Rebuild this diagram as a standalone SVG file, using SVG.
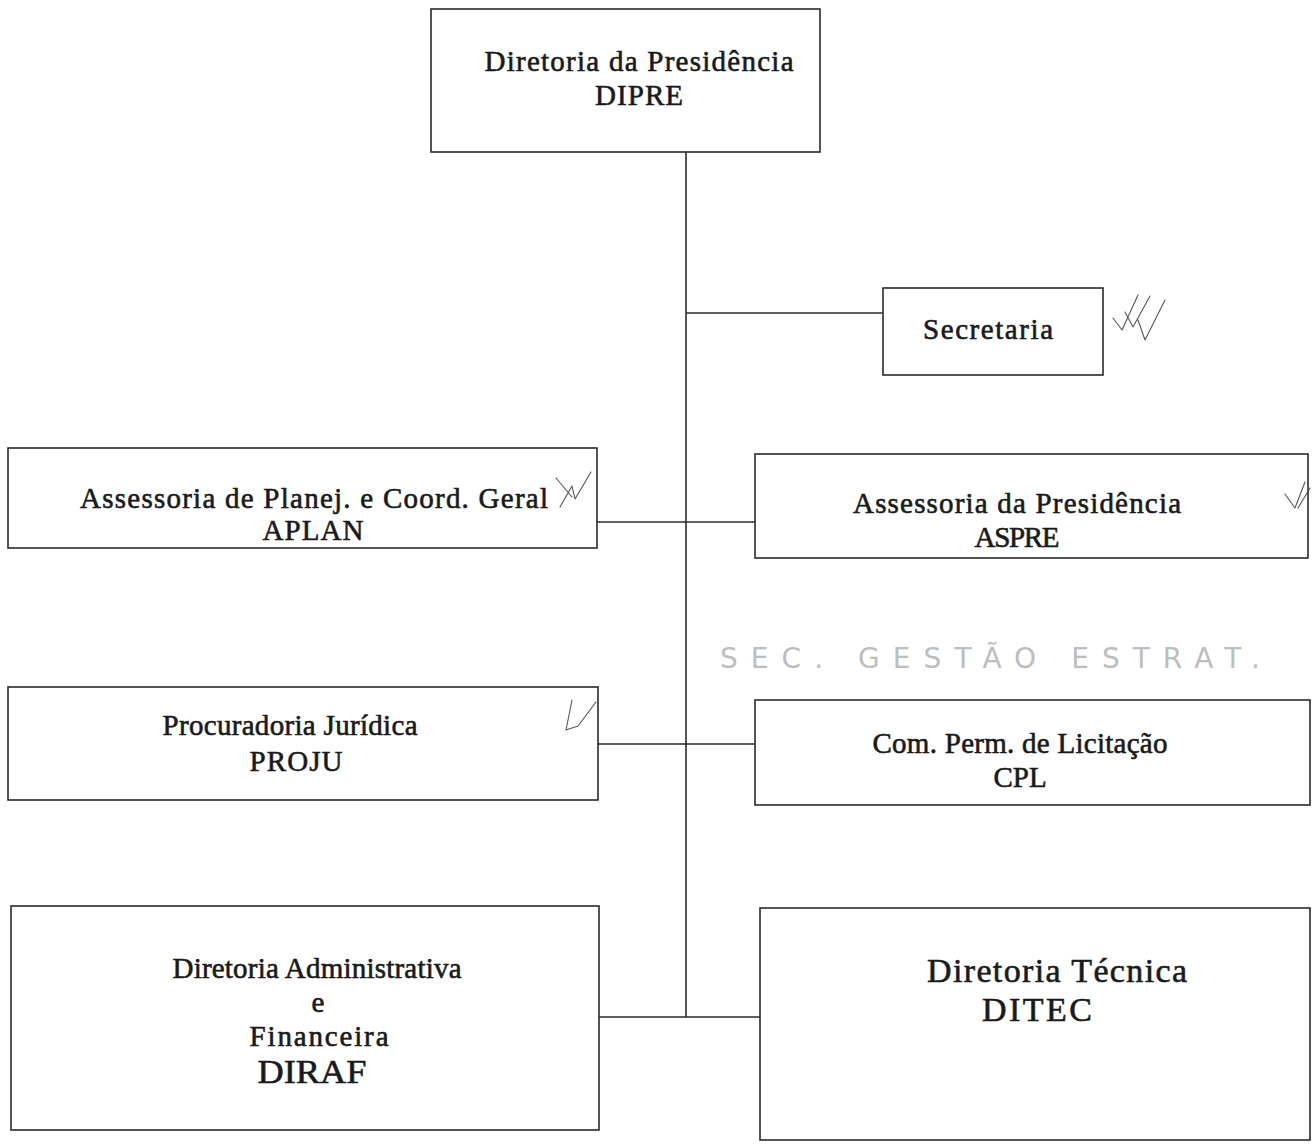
<svg xmlns="http://www.w3.org/2000/svg" width="1312" height="1146" viewBox="0 0 1312 1146">
<style>
.box{fill:#ffffff;stroke:#2a2a2a;stroke-width:1.6}
.conn{stroke:#2a2a2a;stroke-width:1.6;fill:none}
.t{font-family:"Liberation Serif","Times New Roman",serif;fill:#1a1a1a;stroke:#1a1a1a;stroke-width:0.6;text-anchor:middle;font-size:29px}
.big{font-size:34px}
.mark{fill:none;stroke:#555;stroke-width:1.1;stroke-linecap:round;stroke-linejoin:round}
.hand{font-family:"DejaVu Sans",sans-serif;fill:#bdbdbd;font-size:28px}
</style>
<rect width="1312" height="1146" fill="#ffffff"/>
<g id="connectors">
<line class="conn" x1="686" y1="152" x2="686" y2="1017"/>
<line class="conn" x1="686" y1="313" x2="883" y2="313"/>
<line class="conn" x1="597" y1="522" x2="755" y2="522"/>
<line class="conn" x1="598" y1="744" x2="755" y2="744"/>
<line class="conn" x1="599" y1="1017" x2="760" y2="1017"/>
</g>
<g id="dipre">
<rect class="box" x="431" y="9" width="389" height="143"/>
<text class="t" x="639" y="71" textLength="309" lengthAdjust="spacing">Diretoria da Presidência</text>
<text class="t" x="639" y="105" textLength="88" lengthAdjust="spacing">DIPRE</text>
</g>
<g id="secretaria">
<rect class="box" x="883" y="288" width="220" height="87"/>
<text class="t" x="988" y="339" textLength="130" lengthAdjust="spacing">Secretaria</text>
<path class="mark" d="M1113 318 L1122 330 L1138 295 M1125 312 L1133 327 L1150 296 M1138 320 L1145 340 L1165 300"/>
</g>
<g id="aplan">
<rect class="box" x="8" y="448" width="589" height="100"/>
<text class="t" x="314" y="508" textLength="468" lengthAdjust="spacing">Assessoria de Planej. e Coord. Geral</text>
<text class="t" x="313" y="540" textLength="101" lengthAdjust="spacing">APLAN</text>
<path class="mark" d="M556 478 L572 497 M560 507 L572 486 L575 499 L591 472"/>
</g>
<g id="aspre">
<rect class="box" x="755" y="454" width="553" height="104"/>
<text class="t" x="1017" y="513" textLength="328" lengthAdjust="spacing">Assessoria da Presidência</text>
<text class="t" x="1017" y="547" textLength="85" lengthAdjust="spacing">ASPRE</text>
<path class="mark" d="M1285 494 L1295 508 L1305 482 M1298 508 L1310 488"/>
</g>
<text class="hand" x="990" y="668" text-anchor="middle" textLength="540" lengthAdjust="spacing">SEC. GESTÃO ESTRAT.</text>
<g id="proju">
<rect class="box" x="8" y="687" width="590" height="113"/>
<text class="t" x="290" y="735" textLength="255" lengthAdjust="spacing">Procuradoria Jurídica</text>
<text class="t" x="296" y="771" textLength="93" lengthAdjust="spacing">PROJU</text>
<path class="mark" d="M572 700 L566 730 L578 726 L596 702"/>
</g>
<g id="cpl">
<rect class="box" x="755" y="700" width="555" height="105"/>
<text class="t" x="1020" y="753" textLength="295" lengthAdjust="spacing">Com. Perm. de Licitação</text>
<text class="t" x="1020" y="787">CPL</text>
</g>
<g id="diraf">
<rect class="box" x="11" y="906" width="588" height="224"/>
<text class="t" x="317" y="978" textLength="289" lengthAdjust="spacing">Diretoria Administrativa</text>
<text class="t" x="318" y="1012">e</text>
<text class="t" x="319" y="1046" textLength="139" lengthAdjust="spacing">Financeira</text>
<text class="t big" x="312" y="1083" textLength="109" lengthAdjust="spacingAndGlyphs">DIRAF</text>
</g>
<g id="ditec">
<rect class="box" x="760" y="908" width="550" height="232"/>
<text class="t big" x="1057" y="982" textLength="260" lengthAdjust="spacing">Diretoria Técnica</text>
<text class="t big" x="1037" y="1021" textLength="110" lengthAdjust="spacing">DITEC</text>
</g>
</svg>
